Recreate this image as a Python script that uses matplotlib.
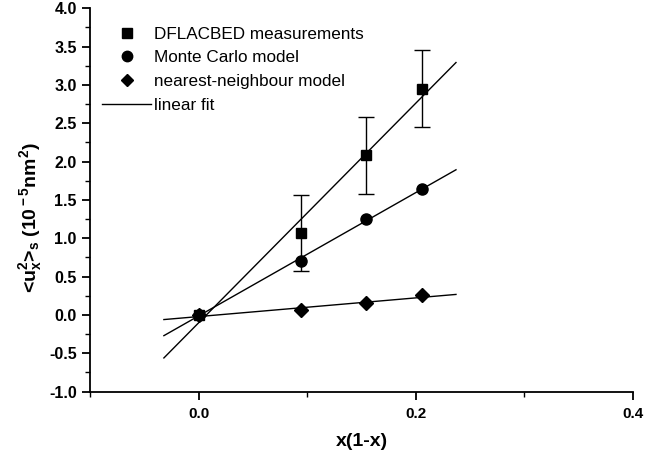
import numpy as np
import matplotlib
matplotlib.use('Agg')
import matplotlib.pyplot as plt
from matplotlib.lines import Line2D
from matplotlib.ticker import MultipleLocator, FormatStrFormatter

# ---- data ----
x_vals = [0.0, 0.094, 0.1545, 0.206]
dflacbed = [0.0, 1.07, 2.08, 2.95]
dflacbed_err = [0.0, 0.5, 0.5, 0.5]
monte_carlo = [0.0, 0.708, 1.257, 1.64]
nearest = [0.0, 0.063, 0.15, 0.257]
fit_range = [-0.032, 0.237]
legend_labels = ["DFLACBED measurements", "Monte Carlo model",
                 "nearest-neighbour model", "linear fit"]
x_ticks = [0.0, 0.2, 0.4]
y_ticks = [-1.0, -0.5, 0.0, 0.5, 1.0, 1.5, 2.0, 2.5, 3.0, 3.5, 4.0]

plt.rcParams['font.family'] = ['Liberation Sans', 'DejaVu Sans']
plt.rcParams['mathtext.fontset'] = 'custom'
plt.rcParams['mathtext.rm'] = 'Liberation Sans:bold'
plt.rcParams['mathtext.it'] = 'Liberation Sans:bold'
plt.rcParams['mathtext.bf'] = 'Liberation Sans:bold'

fig = plt.figure(figsize=(6.67, 4.57), dpi=100)
ax = fig.add_axes([0.135, 0.143, 0.814, 0.839])

xa = np.array(x_vals)
xf = np.array(fit_range)
for ys in (dflacbed, monte_carlo, nearest):
    k, b = np.polyfit(xa, np.array(ys), 1)
    ax.plot(xf, k * xf + b, color='black', lw=1.0, zorder=2)

# error bars (only where an error is given)
err = np.array(dflacbed_err)
m = err > 0
ax.errorbar(xa[m], np.array(dflacbed)[m], yerr=err[m], fmt='none',
            ecolor='black', elinewidth=1.0, capsize=6, capthick=1.0, zorder=3)

ax.plot(x_vals, dflacbed, ls='none', marker='s', ms=7.5, color='black', zorder=4)
ax.plot(x_vals, monte_carlo, ls='none', marker='o', ms=8, color='black', zorder=4)
ax.plot(x_vals, nearest, ls='none', marker='D', ms=7, color='black', zorder=4)

ax.set_xlim(-0.1, 0.4)
ax.set_ylim(-1.0, 4.0)
ax.set_xticks(x_ticks)
ax.xaxis.set_minor_locator(MultipleLocator(0.1))
ax.set_yticks(y_ticks)
ax.yaxis.set_minor_locator(MultipleLocator(0.25))
ax.xaxis.set_major_formatter(FormatStrFormatter('%.1f'))
ax.yaxis.set_major_formatter(FormatStrFormatter('%.1f'))

for s in ('top', 'right'):
    ax.spines[s].set_visible(False)
for s in ('left', 'bottom'):
    ax.spines[s].set_linewidth(1.3)

ax.tick_params(axis='both', which='major', direction='out', length=6, width=1.3)
ax.tick_params(axis='y', which='major', labelsize=11.5)
ax.tick_params(axis='x', which='major', labelsize=11, pad=5)
ax.tick_params(axis='both', which='minor', direction='out', length=3.5, width=1.0)
for lab in ax.get_xticklabels() + ax.get_yticklabels():
    lab.set_fontweight('bold')

ax.set_xlabel('x(1-x)', fontsize=14, fontweight='bold', labelpad=9)
ax.set_ylabel(r'<u$_{\rm x}^{\rm 2}$>$_{\rm s}$ (10$^{\rm -5}$nm$^{\rm 2}$)',
              fontsize=14, fontweight='bold')
ax.yaxis.set_label_coords(-0.085, 0.453)

handles = [
    Line2D([], [], ls='none', marker='s', ms=7, color='black'),
    Line2D([], [], ls='none', marker='o', ms=7.5, color='black'),
    Line2D([], [], ls='none', marker='D', ms=6.5, color='black'),
    Line2D([], [], color='black', lw=1.0),
]
leg = ax.legend(handles, legend_labels, loc='upper left',
                bbox_to_anchor=(0.003, 0.978), frameon=False, fontsize=12.3,
                handlelength=2.9, handletextpad=0.12, labelspacing=0.5,
                borderaxespad=0.2)

fig.savefig('out.png', dpi=100)
